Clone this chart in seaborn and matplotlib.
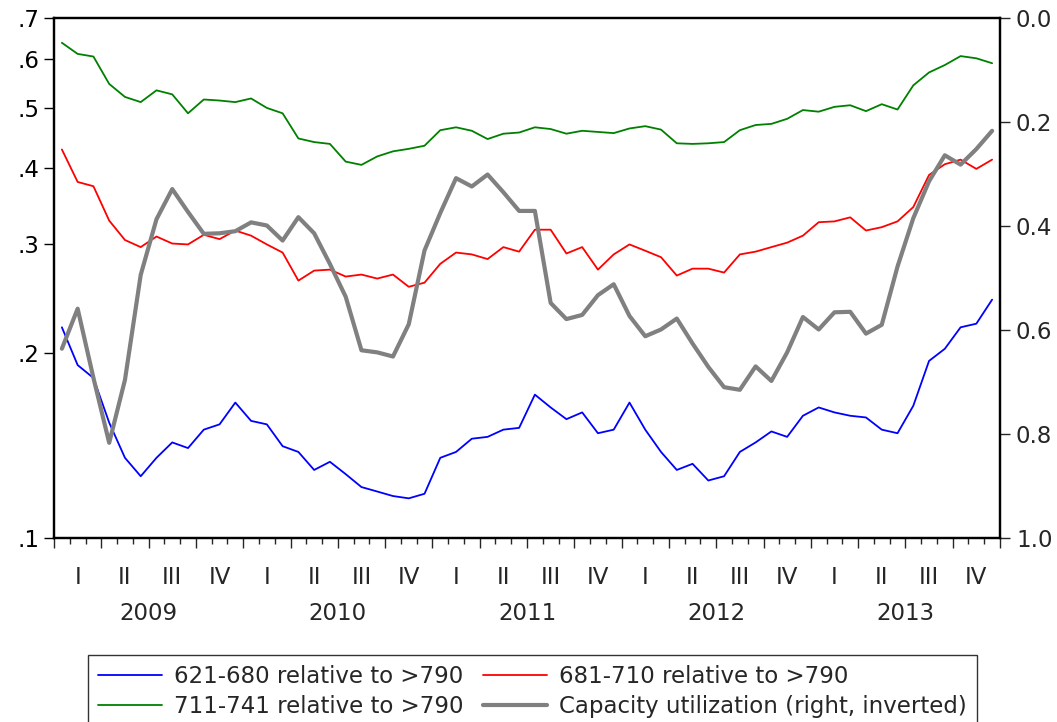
import numpy as np
import pandas as pd
import matplotlib
matplotlib.use("Agg")
import matplotlib.pyplot as plt
import matplotlib.transforms as mtransforms
from matplotlib.ticker import FixedLocator, FixedFormatter, NullLocator, NullFormatter
from matplotlib.lines import Line2D
import seaborn as sns

# ---------------- data (monthly, Jan 2009 - Dec 2013) ----------------
months = pd.period_range("2009-01", "2013-12", freq="M")

s621_680 = [0.220, 0.191, 0.182, 0.154, 0.135, 0.126, 0.135, 0.143, 0.140, 0.150,
            0.153, 0.166, 0.155, 0.153, 0.141, 0.138, 0.129, 0.133, 0.127, 0.121,
            0.119, 0.117, 0.116, 0.118, 0.135, 0.138, 0.145, 0.146, 0.150, 0.151,
            0.171, 0.163, 0.156, 0.160, 0.148, 0.150, 0.166, 0.150, 0.138, 0.129,
            0.132, 0.124, 0.126, 0.138, 0.143, 0.149, 0.146, 0.158, 0.163, 0.160,
            0.158, 0.157, 0.150, 0.148, 0.164, 0.194, 0.203, 0.220, 0.223, 0.244]

s681_710 = [0.428, 0.379, 0.373, 0.328, 0.305, 0.297, 0.309, 0.301, 0.300, 0.311,
            0.306, 0.316, 0.310, 0.300, 0.291, 0.262, 0.272, 0.273, 0.266, 0.268,
            0.264, 0.268, 0.256, 0.260, 0.279, 0.291, 0.289, 0.284, 0.297, 0.292,
            0.317, 0.317, 0.290, 0.297, 0.273, 0.289, 0.300, 0.293, 0.286, 0.267,
            0.274, 0.274, 0.270, 0.289, 0.292, 0.297, 0.302, 0.310, 0.326, 0.327,
            0.332, 0.316, 0.320, 0.327, 0.345, 0.389, 0.405, 0.412, 0.398, 0.412]

s711_741 = [0.638, 0.612, 0.606, 0.547, 0.521, 0.511, 0.534, 0.526, 0.490, 0.516,
            0.514, 0.511, 0.518, 0.500, 0.490, 0.446, 0.440, 0.437, 0.409, 0.404,
            0.417, 0.425, 0.429, 0.434, 0.460, 0.465, 0.459, 0.445, 0.454, 0.456,
            0.465, 0.462, 0.454, 0.459, 0.457, 0.455, 0.463, 0.467, 0.461, 0.438,
            0.437, 0.438, 0.440, 0.460, 0.469, 0.471, 0.480, 0.496, 0.493, 0.502,
            0.505, 0.494, 0.507, 0.497, 0.544, 0.571, 0.587, 0.607, 0.602, 0.591]

capacity = [0.636, 0.559, 0.692, 0.817, 0.696, 0.494, 0.387, 0.329, 0.373, 0.415,
            0.414, 0.410, 0.393, 0.399, 0.428, 0.383, 0.414, 0.473, 0.536, 0.639,
            0.643, 0.651, 0.589, 0.447, 0.375, 0.308, 0.324, 0.301, 0.335, 0.371,
            0.371, 0.548, 0.579, 0.571, 0.533, 0.512, 0.573, 0.612, 0.599, 0.578,
            0.626, 0.671, 0.710, 0.715, 0.670, 0.698, 0.643, 0.575, 0.599, 0.566,
            0.565, 0.607, 0.590, 0.478, 0.385, 0.314, 0.264, 0.282, 0.252, 0.217]

years = ["2009", "2010", "2011", "2012", "2013"]
quarters = ["I", "II", "III", "IV"]
left_ticks = [0.1, 0.2, 0.3, 0.4, 0.5, 0.6, 0.7]
left_labels = [".1", ".2", ".3", ".4", ".5", ".6", ".7"]
right_ticks = [0.0, 0.2, 0.4, 0.6, 0.8, 1.0]
right_labels = ["0.0", "0.2", "0.4", "0.6", "0.8", "1.0"]
series_names = ["621-680 relative to >790", "681-710 relative to >790",
                "711-741 relative to >790", "Capacity utilization (right, inverted)"]

# ---------------- style ----------------
sns.set_style("ticks")
plt.rcParams["font.family"] = ["DejaVu Sans"]
FS = 16.5

W, H = 1057, 722
fig = plt.figure(figsize=(W / 100, H / 100), dpi=100)
L, R, T, B = 54, 1000, 18, 538
ax = fig.add_axes([L / W, 1 - B / H, (R - L) / W, (B - T) / H])

n = len(months)
df = pd.DataFrame({"pos": np.arange(n) + 0.5,
                   "a": s621_680, "b": s681_710, "c": s711_741, "cap": capacity})

colors = ["#0000ff", "#ff0000", "#008000", "#808080"]
sns.lineplot(data=df, x="pos", y="a", ax=ax, color=colors[0], lw=1.3, legend=False)
sns.lineplot(data=df, x="pos", y="b", ax=ax, color=colors[1], lw=1.3, legend=False)
sns.lineplot(data=df, x="pos", y="c", ax=ax, color=colors[2], lw=1.3, legend=False)

ax.set_yscale("log")
ax.set_ylim(0.1, 0.7)
ax.yaxis.set_major_locator(FixedLocator(left_ticks))
ax.yaxis.set_major_formatter(FixedFormatter(left_labels))
ax.yaxis.set_minor_locator(NullLocator())
ax.set_xlim(0, n)
ax.xaxis.set_major_locator(FixedLocator(np.arange(0, n + 1, 3)))
ax.xaxis.set_minor_locator(FixedLocator(np.arange(0, n + 1, 1)))
ax.xaxis.set_major_formatter(NullFormatter())
ax.set_xlabel("")
ax.set_ylabel("")
ax.tick_params(axis="y", which="major", direction="out", length=7.5, width=1.0,
               labelsize=FS, pad=3, colors="black")
ax.tick_params(axis="x", which="major", direction="out", length=7.5, width=1.0)
ax.tick_params(axis="x", which="minor", direction="out", length=4.5, width=1.0)

ax2 = ax.twinx()
sns.lineplot(data=df, x="pos", y="cap", ax=ax2, color=colors[3], lw=3.0, legend=False)
ax2.set_ylim(1.0, 0.0)
ax2.yaxis.set_major_locator(FixedLocator(right_ticks))
ax2.yaxis.set_major_formatter(FixedFormatter(right_labels))
ax2.set_ylabel("")
ax2.tick_params(axis="y", which="major", direction="out", length=7.5, width=1.0,
                labelsize=FS, pad=4)

for a in (ax, ax2):
    for s in a.spines.values():
        s.set_color("black")
        s.set_linewidth(1.6)

# quarter and year labels under the axis
trans = mtransforms.blended_transform_factory(ax.transData, ax.transAxes)
for q in range(n // 3):
    ax.text(q * 3 + 1.5, -40 / (B - T), quarters[q % 4], transform=trans,
            ha="center", va="center", fontsize=FS)
for i, y in enumerate(years):
    ax.text(i * 12 + 6, -75 / (B - T), y, transform=trans,
            ha="center", va="center", fontsize=FS)

# legend
handles = [Line2D([], [], color=colors[0], lw=1.3),
           Line2D([], [], color=colors[2], lw=1.3),
           Line2D([], [], color=colors[1], lw=1.3),
           Line2D([], [], color=colors[3], lw=3.0)]
labels = [series_names[0], series_names[2], series_names[1], series_names[3]]
leg = fig.legend(handles, labels, ncol=2, loc="upper left",
                 bbox_to_anchor=(88 / W, 1 - 655 / H), fontsize=FS,
                 frameon=True, fancybox=False, edgecolor="black",
                 handlelength=2.8, handletextpad=0.5, columnspacing=0.85,
                 labelspacing=0.3, borderpad=0.45, borderaxespad=0)
leg.get_frame().set_linewidth(1.0)

fig.savefig("out.png", dpi=100)
